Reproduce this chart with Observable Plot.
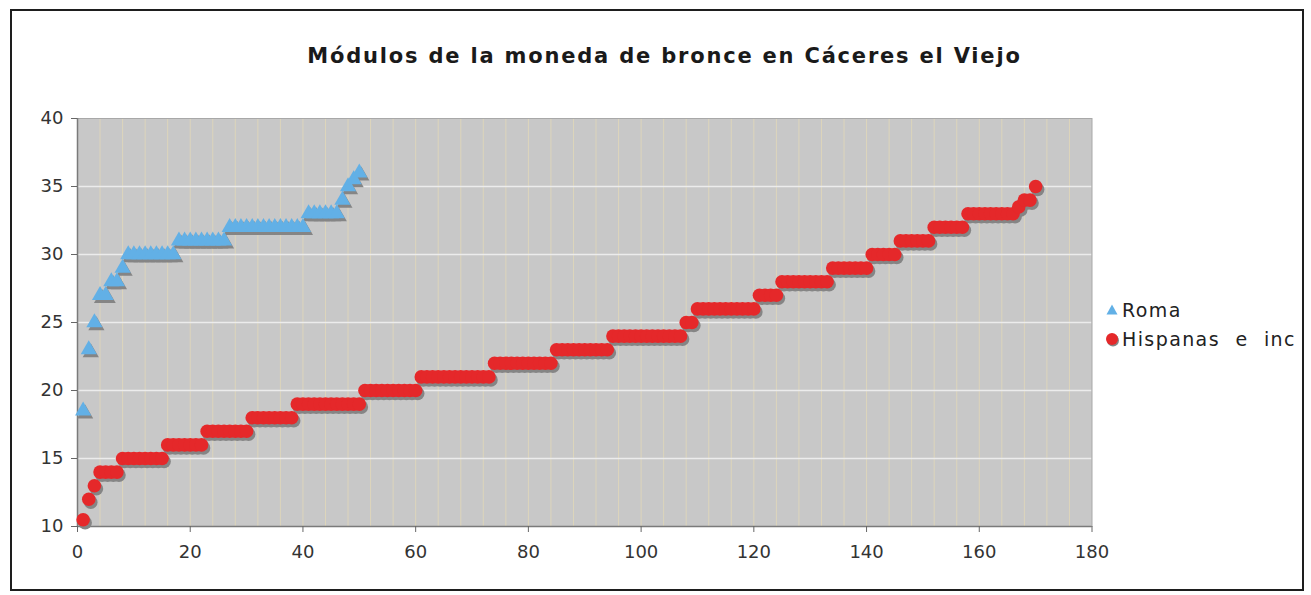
<!DOCTYPE html>
<html>
<head>
<meta charset="utf-8">
<script src="https://cdn.jsdelivr.net/npm/d3@7"></script>
<script src="https://cdn.jsdelivr.net/npm/@observablehq/plot@0.6"></script>
<style>
  html, body { margin: 0; padding: 0; background: #fff; }
  body { width: 1311px; height: 595px; position: relative; overflow: hidden; font-family: "DejaVu Sans", Verdana, sans-serif; }
  #frame { position: absolute; left: 10px; top: 9px; width: 1290px; height: 578px; border: 2px solid #1e1e1e; }
  #title { position: absolute; left: 0; width: 1329px; top: 44px; text-align: center; font-weight: bold; font-size: 21px; letter-spacing: 1.8px; color: #1a1a1a; }
  #chart { position: absolute; left: 0; top: 90px; }
  #legend { position: absolute; left: 1104px; top: 295px; font-size: 19px; letter-spacing: 1.4px; word-spacing: 8px; color: #222; }
  .item { display: flex; align-items: center; height: 29px; }
  .item svg { margin-right: 2px; }
</style>
</head>
<body>
<div id="frame"></div>
<div id="title">Módulos de la moneda de bronce en Cáceres el Viejo</div>
<div id="chart"></div>
<div id="legend"></div>
<script>
// Series names
const seriesNames = ["Roma", "Hispanas e inc"];

// Roma: module (mm) by rank 1..50
const roma = [
  18.5, 23, 25, 27, 27, 28, 28, 29,
  30, 30, 30, 30, 30, 30, 30, 30, 30,
  31, 31, 31, 31, 31, 31, 31, 31, 31,
  32, 32, 32, 32, 32, 32, 32, 32, 32, 32, 32, 32, 32, 32,
  33, 33, 33, 33, 33, 33,
  34, 35, 35.5, 36
];

// Hispanas e inc: module (mm) by rank 1..170
const hispanas = [
  10.5, 12, 13, 14, 14, 14, 14,
  15, 15, 15, 15, 15, 15, 15, 15,
  16, 16, 16, 16, 16, 16, 16,
  17, 17, 17, 17, 17, 17, 17, 17,
  18, 18, 18, 18, 18, 18, 18, 18,
  19, 19, 19, 19, 19, 19, 19, 19, 19, 19, 19, 19,
  20, 20, 20, 20, 20, 20, 20, 20, 20, 20,
  21, 21, 21, 21, 21, 21, 21, 21, 21, 21, 21, 21, 21,
  22, 22, 22, 22, 22, 22, 22, 22, 22, 22, 22,
  23, 23, 23, 23, 23, 23, 23, 23, 23, 23,
  24, 24, 24, 24, 24, 24, 24, 24, 24, 24, 24, 24, 24,
  25, 25,
  26, 26, 26, 26, 26, 26, 26, 26, 26, 26, 26,
  27, 27, 27, 27,
  28, 28, 28, 28, 28, 28, 28, 28, 28,
  29, 29, 29, 29, 29, 29, 29,
  30, 30, 30, 30, 30,
  31, 31, 31, 31, 31, 31,
  32, 32, 32, 32, 32, 32,
  33, 33, 33, 33, 33, 33, 33, 33, 33,
  33.5, 34, 34, 35
];

// Axis ticks
const xTicks = [0, 20, 40, 60, 80, 100, 120, 140, 160, 180];
const yTicks = [10, 15, 20, 25, 30, 35, 40];
const xMinorGrid = d3.range(4, 180, 4);

const romaData = roma.map((v, i) => ({n: i + 1, v}));
const hispData = hispanas.map((v, i) => ({n: i + 1, v}));

const blue = "#62b0e6";
const red = "#e5282a";
const shadow = "#858585";

const chart = Plot.plot({
  width: 1130,
  height: 480,
  marginLeft: 77,
  marginRight: 38.5,
  marginTop: 28,
  marginBottom: 44,
  style: {fontFamily: "DejaVu Sans, Verdana, sans-serif", fontSize: "18px", color: "#333", background: "transparent", overflow: "visible"},
  x: {domain: [0, 180]},
  y: {domain: [10, 40]},
  marks: [
    Plot.frame({fill: "#c8c8c8", stroke: null}),
    Plot.gridX(xMinorGrid, {stroke: "#ddd5bb", strokeOpacity: 1, strokeWidth: 1}),
    Plot.gridY(yTicks.filter(d => d > 10 && d < 40), {stroke: "#ececec", strokeOpacity: 1, strokeWidth: 1.5}),
    Plot.frame({stroke: "#a8a8a8"}),
    Plot.ruleX([0], {stroke: "#7a7a7a", strokeWidth: 1.5}),
    Plot.ruleY([10], {stroke: "#7a7a7a", strokeWidth: 1.5}),
    Plot.axisY({ticks: yTicks, tickSize: 6, tickPadding: 8, fontSize: 18, stroke: "#666", fill: "#333", label: null}),
    Plot.axisX({ticks: xTicks, tickSize: 6, tickPadding: 13, fontSize: 18, stroke: "#666", fill: "#333", label: null}),
    // shadows
    Plot.dot(romaData, {x: "n", y: "v", symbol: "triangle", r: 6, fill: shadow, stroke: null, dx: 2, dy: 3}),
    Plot.dot(hispData, {x: "n", y: "v", symbol: "circle", r: 6.8, fill: shadow, stroke: null, dx: 2, dy: 3}),
    // markers
    Plot.dot(romaData, {x: "n", y: "v", symbol: "triangle", r: 6, fill: blue, stroke: null}),
    Plot.dot(hispData, {x: "n", y: "v", symbol: "circle", r: 6.8, fill: red, stroke: null})
  ]
});
document.getElementById("chart").appendChild(chart);

// Legend
const legend = document.getElementById("legend");
const symbols = [
  `<svg width="16" height="14" viewBox="-8 -7 16 14"><path d="M0,-5.5L5.5,4.5L-5.5,4.5Z" fill="${blue}"/></svg>`,
  `<svg width="16" height="16" viewBox="-8 -8 16 16"><circle cx="1" cy="1.5" r="6" fill="${shadow}"/><circle r="6" fill="${red}"/></svg>`
];
seriesNames.forEach((name, i) => {
  const div = document.createElement("div");
  div.className = "item";
  div.innerHTML = symbols[i] + `<span>${name}</span>`;
  legend.appendChild(div);
});
</script>
</body>
</html>
